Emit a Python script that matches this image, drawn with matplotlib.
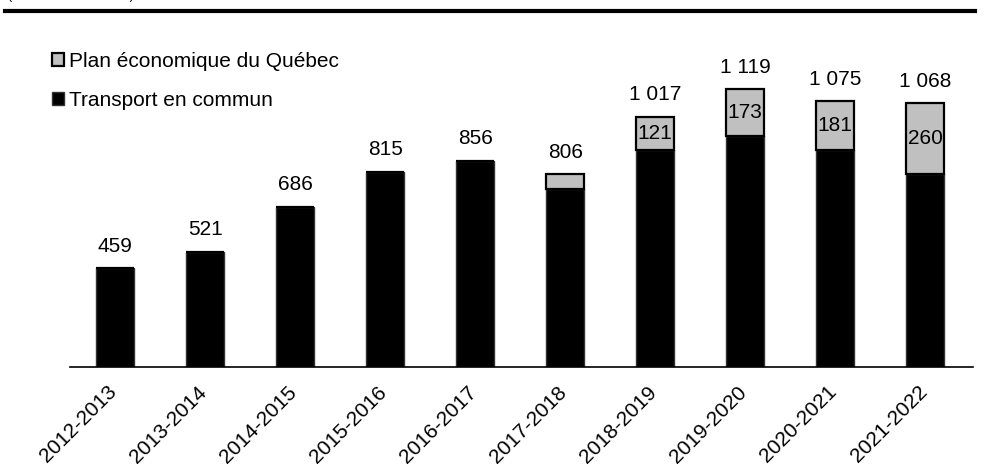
import matplotlib.pyplot as plt
import matplotlib.transforms as mtransforms
from matplotlib.lines import Line2D

plt.rcParams['font.family'] = ['Liberation Sans', 'DejaVu Sans']

years = ['2012-2013', '2013-2014', '2014-2015', '2015-2016', '2016-2017',
         '2017-2018', '2018-2019', '2019-2020', '2020-2021', '2021-2022']
transport = [459, 521, 686, 815, 856, 751, 896, 946, 894, 808]
plan_quebec = [0, 0, 0, 0, 0, 55, 121, 173, 181, 260]
totals = [t + p for t, p in zip(transport, plan_quebec)]

GREY = '#c0c0c0'

fig = plt.figure(figsize=(9.84, 4.67), dpi=100)
ax = fig.add_axes([70 / 984, 1 - 367 / 467, (973 - 70) / 984, (367 - 40) / 467])

x = list(range(len(years)))
w = 0.42
ax.bar(x, transport, w, bottom=0, color='black', edgecolor='#333333', linewidth=1,
       label='Transport en commun', zorder=2)
ax.bar(x, plan_quebec, w, bottom=transport, color=GREY, edgecolor='black', linewidth=1.6,
       label='Plan économique du Québec', zorder=2)

# totals above each bar, with a space as thousands separator
for i, tot in enumerate(totals):
    ax.annotate(f'{tot:,}'.replace(',', ' '), (i, tot), xytext=(0, 9),
                textcoords='offset points', ha='center', va='bottom', fontsize=15)

# labels inside the grey segments when they are tall enough
for i, (t, p) in enumerate(zip(transport, plan_quebec)):
    if p >= 100:
        ax.text(i, t + p / 2, str(p), ha='center', va='center', fontsize=15, zorder=3)

ax.set_xlim(-0.5, 9.53)
ax.set_ylim(96, 1300)
ax.set_yticks([])
for side in ('top', 'right', 'left'):
    ax.spines[side].set_visible(False)
ax.spines['bottom'].set_linewidth(1.2)

ax.set_xticks(x)
ax.set_xticklabels(years, rotation=45, ha='right', va='top', rotation_mode='anchor', fontsize=15)
ax.tick_params(axis='x', length=0, pad=11)
shift = mtransforms.ScaledTranslation(-8 / 100, 0, fig.dpi_scale_trans)
for lbl in ax.get_xticklabels():
    lbl.set_transform(lbl.get_transform() + shift)

handles, labels = ax.get_legend_handles_labels()
ax.legend(handles[::-1], labels[::-1], loc='upper left', bbox_to_anchor=(-0.029, 0.99),
          frameon=False, fontsize=15, handlelength=0.55, handleheight=0.55,
          handletextpad=0.25, labelspacing=0.98, borderaxespad=0)

# heading rule and unit caption at the top
fig.add_artist(Line2D([5 / 984, 975 / 984], [1 - 11 / 467, 1 - 11 / 467],
                      color='black', linewidth=3))
fig.text(8 / 984, 1 + 1.5 / 467, '(en millions de dollars)', fontsize=9, va='baseline', ha='left')

fig.savefig('out.png', dpi=100)
